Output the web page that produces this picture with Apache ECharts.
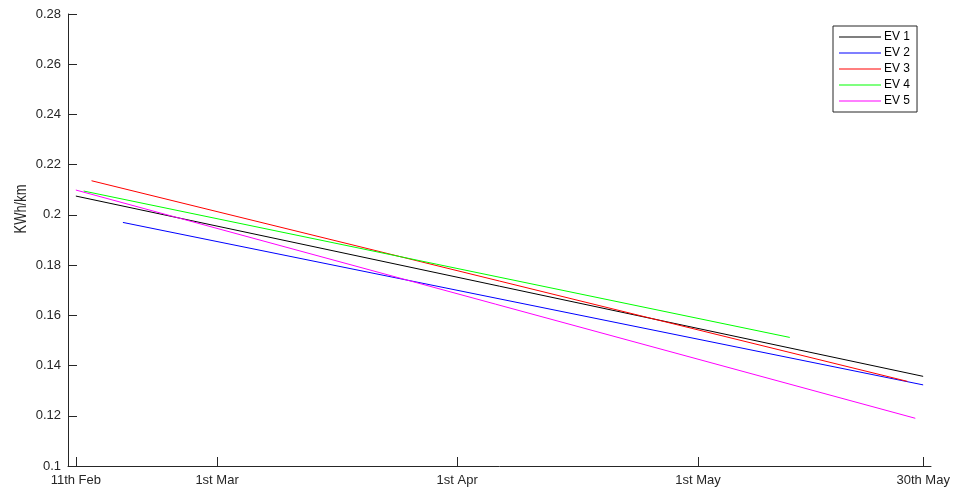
<!DOCTYPE html>
<html>
<head>
<meta charset="utf-8">
<script src="https://cdn.jsdelivr.net/npm/echarts@6/dist/echarts.min.js"></script>
<style>
  html, body { margin: 0; padding: 0; background: #fff; }
  #chart { width: 955px; height: 494px; }
</style>
</head>
<body>
<div id="chart"></div>
<script>
// Days counted from 11th Feb; each EV's consumption trend is a straight fit
// given by its first and last day.
const tickDays = [0, 18, 48.6, 79.3, 108];
const tickLabels = ['11th Feb', '1st Mar', '1st Apr', '1st May', '30th May'];

const seriesNames = ['EV 1', 'EV 2', 'EV 3', 'EV 4', 'EV 5'];
const ev1 = [[0, 0.2075], [108, 0.1357]];
const ev2 = [[6, 0.1970], [108, 0.1323]];
const ev3 = [[2, 0.2136], [106, 0.1337]];
const ev4 = [[1, 0.2095], [91, 0.1512]];
const ev5 = [[0, 0.2099], [107, 0.1190]];
const seriesData = [ev1, ev2, ev3, ev4, ev5];
const seriesColors = ['#000000', '#0000ff', '#ff0000', '#00ff00', '#ff00ff'];

const axisGray = '#262626';
const font = '"Liberation Sans", Arial, Helvetica, sans-serif';

const chart = echarts.init(document.getElementById('chart'), null, { renderer: 'canvas' });

chart.setOption({
  animation: false,
  backgroundColor: '#ffffff',
  grid: { left: 68, right: 24, top: 14, bottom: 28, containLabel: false, outerBoundsMode: 'none' },
  xAxis: {
    type: 'value',
    min: -1,
    max: 109,
    axisLine: { show: true, onZero: false, lineStyle: { color: axisGray, width: 1 } },
    axisTick: { show: true, inside: true, length: 9, customValues: tickDays, lineStyle: { color: axisGray } },
    axisLabel: {
      show: true,
      customValues: tickDays,
      margin: 8,
      color: axisGray,
      fontFamily: font,
      fontSize: 13,
      formatter: function (v) {
        for (let i = 0; i < tickDays.length; i++) {
          if (Math.abs(tickDays[i] - v) < 1e-6) return tickLabels[i];
        }
        return '';
      }
    },
    splitLine: { show: false }
  },
  yAxis: {
    type: 'value',
    min: 0.1,
    max: 0.28,
    interval: 0.02,
    axisLine: { show: true, onZero: false, lineStyle: { color: axisGray, width: 1 } },
    axisTick: { show: true, inside: true, length: 9, lineStyle: { color: axisGray } },
    axisLabel: {
      margin: 7,
      color: axisGray,
      fontFamily: font,
      fontSize: 13,
      formatter: function (v) { return String(parseFloat(v.toFixed(2))); }
    },
    splitLine: { show: false }
  },
  legend: {
    orient: 'vertical',
    left: 833,
    top: 26,
    padding: [5, 7, 5, 6],
    icon: 'rect',
    itemWidth: 42,
    itemHeight: 1,
    itemGap: 4,
    backgroundColor: '#ffffff',
    borderColor: axisGray,
    borderWidth: 1,
    borderRadius: 0,
    textStyle: { color: '#000000', fontFamily: font, fontSize: 12, lineHeight: 12, padding: [0, 0, 0, -2] },
    data: seriesNames
  },
  graphic: [{
    type: 'text',
    x: 30,
    y: 209,
    rotation: Math.PI / 2,
    scaleX: 0.76,
    style: {
      text: 'KWh/km',
      fill: axisGray,
      font: '17px ' + font,
      align: 'center',
      verticalAlign: 'bottom'
    }
  }],
  series: seriesNames.map(function (name, i) {
    return {
      name: name,
      type: 'line',
      data: seriesData[i],
      symbol: 'none',
      lineStyle: { color: seriesColors[i], width: 1 },
      itemStyle: { color: seriesColors[i] },
      emphasis: { disabled: true }
    };
  })
});
</script>
</body>
</html>
